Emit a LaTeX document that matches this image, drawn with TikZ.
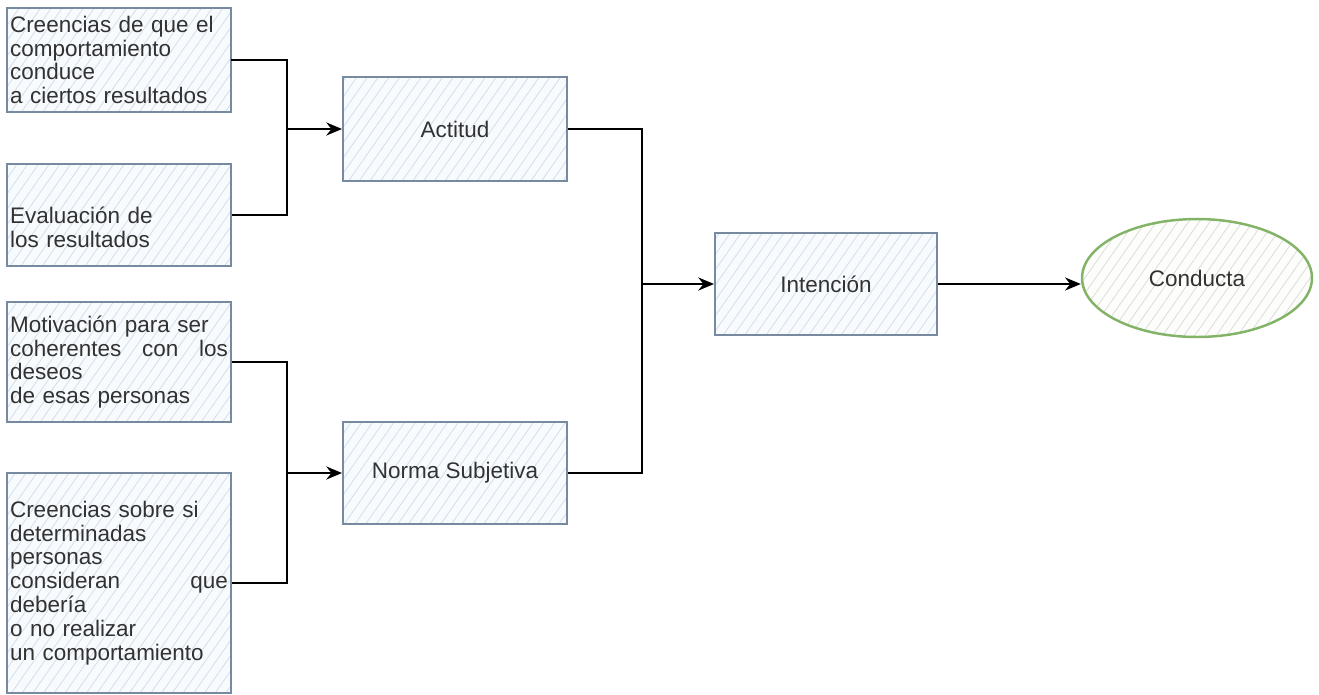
\documentclass[tikz,border=0pt]{standalone}
\usepackage{fontspec}
\setmainfont{Liberation Sans}
\usetikzlibrary{shapes.geometric,patterns.meta,arrows.meta}

\definecolor{boxline}{RGB}{120,138,160}
\definecolor{boxfill}{RGB}{248,251,254}
\definecolor{hatch}{RGB}{214,221,231}
\definecolor{endline}{RGB}{130,179,102}
\definecolor{endfill}{RGB}{253,254,252}
\definecolor{endhatch}{RGB}{218,222,215}
\definecolor{txt}{RGB}{50,50,50}

\newcommand{\fullline}[1]{\leavevmode\hbox to 4.36cm{#1}}

\tikzset{
  box/.style={draw=boxline, line width=1.15pt, preaction={fill=boxfill},
    pattern={Lines[angle=55,distance=5pt,line width=0.45pt]}, pattern color=hatch,
    minimum width=4.48cm, minimum height=2.08cm, inner sep=0pt,
    text=txt, font=\fontsize{12.8}{13.6}\selectfont},
  leftbox/.style={box, text width=4.36cm, align=left},
  endnode/.style={ellipse, draw=endline, line width=1.4pt, preaction={fill=endfill},
    pattern={Lines[angle=55,distance=5pt,line width=0.45pt]}, pattern color=endhatch,
    minimum width=4.6cm, minimum height=2.36cm, inner sep=0pt,
    text=txt, font=\fontsize{12.8}{13.6}\selectfont},
  link/.style={line width=0.95pt, black},
}

\begin{document}
\begin{tikzpicture}[x=0.02cm, y=-0.02cm]
  \useasboundingbox (0,0) rectangle (1319,694);

  % inputs on the left
  \node[leftbox] (cr1) at (119,60) {Creencias de que el\\comportamiento\\conduce\\a ciertos resultados};
  \node[leftbox, minimum height=2.04cm] (eva) at (119,215) {\strut\\Evaluación de\\los resultados};
  \node[leftbox, minimum height=2.4cm] (mot) at (119,362) {Motivación para ser\\\fullline{coherentes\hfill con\hfill los}\\deseos\\de esas personas};
  \node[leftbox, minimum height=4.4cm] (cr2) at (119,583) {Creencias sobre si\\determinadas\\personas\\\fullline{consideran\hfill que}\\debería\\o no realizar\\un comportamiento};

  % middle and right
  \node[box] (act) at (455,129) {Actitud};
  \node[box, minimum height=2.04cm] (nor) at (455,473) {Norma Subjetiva};
  \node[box, minimum width=4.44cm, minimum height=2.04cm] (int) at (826,284) {Intención};
  \node[endnode] (con) at (1197,278) {Conducta};

  % junctions
  \coordinate (ja) at (287,129);
  \coordinate (jn) at (287,473);
  \coordinate (ji) at (642,284);

  \begin{scope}[link]
    \draw (cr1.east) -| (ja) |- (eva.east);
    \draw (mot.east) -| (jn) |- (cr2.east);
    \draw (act.east) -| (ji) |- (nor.east);
  \end{scope}
  \begin{scope}[link, -{Stealth[length=9pt,width=7.5pt,inset=3pt]}]
    \draw (ja) -- (act.west);
    \draw (jn) -- (nor.west);
    \draw (ji) -- (int.west);
    \draw (int.east) -- (int.east -| con.west);
  \end{scope}
\end{tikzpicture}
\end{document}
